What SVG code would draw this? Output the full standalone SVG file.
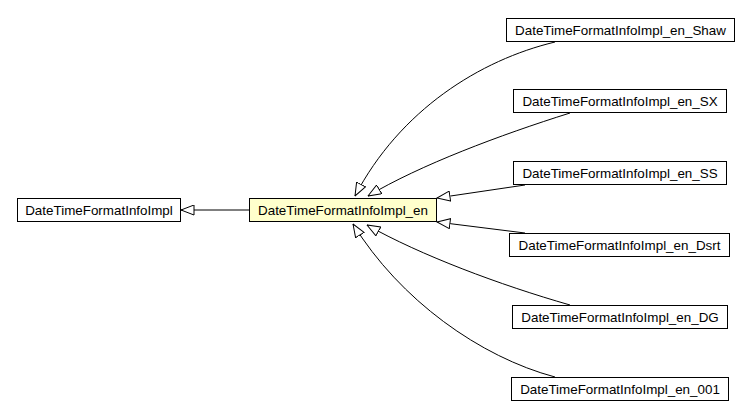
<svg xmlns="http://www.w3.org/2000/svg" width="749" height="419" viewBox="0 0 749 419">
<style>
.box{fill:#fff;stroke:#000;stroke-width:1}
.hl{fill:#ffffcc;stroke:#000;stroke-width:1}
text{font-family:"Liberation Sans",Arial,sans-serif;font-size:13.4px;text-anchor:middle;fill:#000}
.e{fill:none;stroke:#000;stroke-width:1;marker-end:url(#tri)}
</style>
<defs>
<marker id="tri" viewBox="0 0 14 11" refX="13.5" refY="5.5" markerWidth="14" markerHeight="11" markerUnits="userSpaceOnUse" orient="auto">
<path d="M0.5,0.5 L13.5,5.5 L0.5,10.5 z" fill="#fff" stroke="#000" stroke-width="1"/>
</marker>
</defs>
<rect width="749" height="419" fill="#fff"/>
<g id="edges">
<path class="e" d="M249,210 L181,210"/>
<path class="e" d="M555,42 C480,60 400,110 355,196"/>
<path class="e" d="M570,113 C500,135 420,165 368,196"/>
<path class="e" d="M525,185 L437,198"/>
<path class="e" d="M525,233 L437,222"/>
<path class="e" d="M570,305 C500,285 420,255 367,225"/>
<path class="e" d="M555,377 C480,357 400,300 353,224"/>
</g>
<g id="n_impl"><rect class="box" x="17.5" y="198.5" width="163" height="23"/><text x="99" y="214.5">DateTimeFormatInfoImpl</text></g>
<g id="n_en"><rect class="hl" x="249.5" y="198.5" width="187" height="23"/><text x="343" y="214.5">DateTimeFormatInfoImpl_en</text></g>
<g id="n_shaw"><rect class="box" x="506.5" y="18.5" width="228" height="23"/><text x="620.5" y="34.5">DateTimeFormatInfoImpl_en_Shaw</text></g>
<g id="n_sx"><rect class="box" x="513.5" y="89.5" width="213" height="23"/><text x="620" y="105.5">DateTimeFormatInfoImpl_en_SX</text></g>
<g id="n_ss"><rect class="box" x="513.5" y="161.5" width="213" height="23"/><text x="620" y="177.5">DateTimeFormatInfoImpl_en_SS</text></g>
<g id="n_dsrt"><rect class="box" x="509.5" y="233.5" width="220" height="23"/><text x="619.5" y="249.5">DateTimeFormatInfoImpl_en_Dsrt</text></g>
<g id="n_dg"><rect class="box" x="512.5" y="305.5" width="215" height="23"/><text x="620" y="321.5">DateTimeFormatInfoImpl_en_DG</text></g>
<g id="n_001"><rect class="box" x="511.5" y="377.5" width="217" height="23"/><text x="620" y="393.5">DateTimeFormatInfoImpl_en_001</text></g>
</svg>
